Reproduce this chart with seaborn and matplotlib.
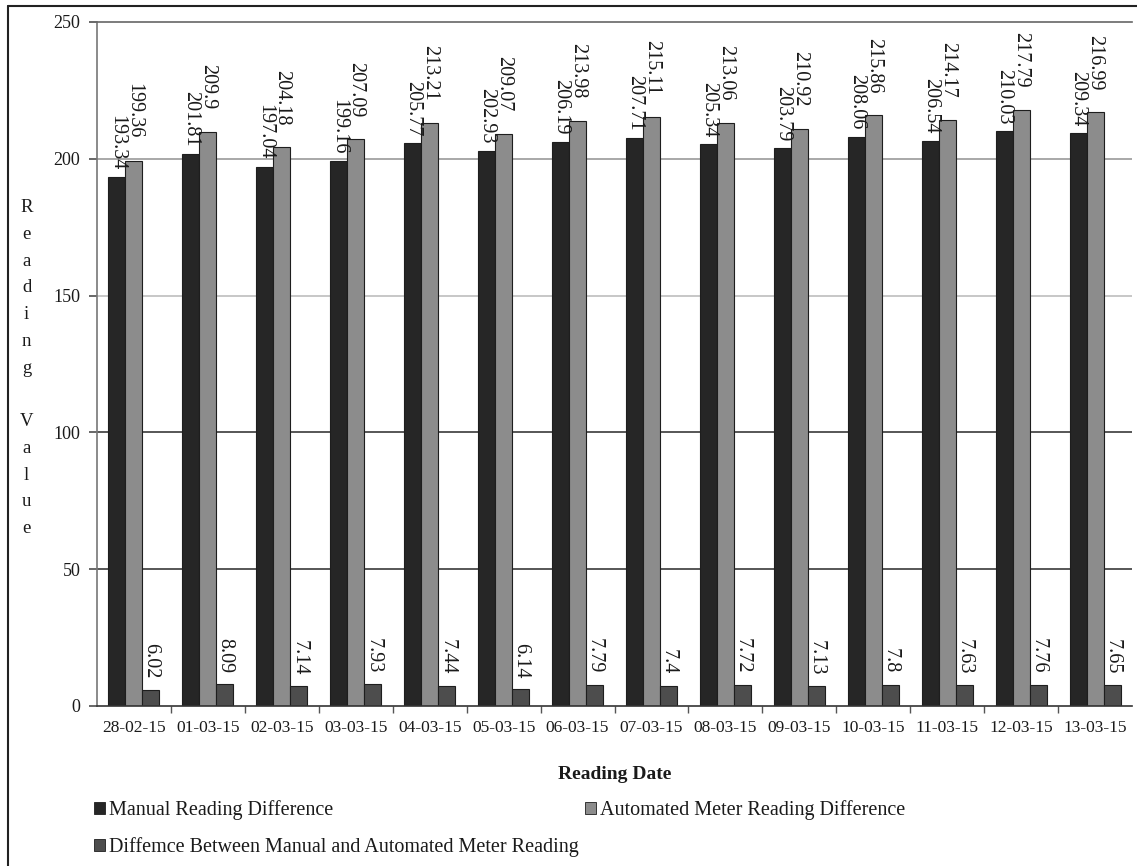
import numpy as np
import pandas as pd
import matplotlib
matplotlib.use("Agg")
import matplotlib.pyplot as plt
from matplotlib.lines import Line2D
from matplotlib.patches import Patch
import seaborn as sns

# Daily readings
dates = ["28-02-15", "01-03-15", "02-03-15", "03-03-15", "04-03-15", "05-03-15", "06-03-15",
         "07-03-15", "08-03-15", "09-03-15", "10-03-15", "11-03-15", "12-03-15", "13-03-15"]
manual = [193.34, 201.81, 197.04, 199.16, 205.77, 202.93, 206.19,
          207.71, 205.34, 203.79, 208.06, 206.54, 210.03, 209.34]
automated = [199.36, 209.9, 204.18, 207.09, 213.21, 209.07, 213.98,
             215.11, 213.06, 210.92, 215.86, 214.17, 217.79, 216.99]
difference = [6.02, 8.09, 7.14, 7.93, 7.44, 6.14, 7.79,
              7.4, 7.72, 7.13, 7.8, 7.63, 7.76, 7.65]

series_names = ["Manual Reading Difference",
                "Automated Meter Reading Difference",
                "Diffemce Between Manual and Automated Meter Reading"]

df = pd.DataFrame({
    "date": dates * 3,
    "value": manual + automated + difference,
    "series": [series_names[0]] * len(dates) + [series_names[1]] * len(dates)
              + [series_names[2]] * len(dates),
})

sns.set_theme(style="white")
plt.rcParams["font.family"] = ["Liberation Serif", "DejaVu Serif"]
plt.rcParams["text.color"] = "#1a1a1a"
plt.rcParams["axes.labelcolor"] = "#1a1a1a"
plt.rcParams["xtick.color"] = "#1a1a1a"
plt.rcParams["ytick.color"] = "#1a1a1a"

W, H = 1137, 866
fig = plt.figure(figsize=(W / 100, H / 100), dpi=100)
ax = fig.add_axes([97 / W, 1 - 706 / H, (1132 - 97) / W, (706 - 22) / H])

colors = ["#262626", "#8c8c8c", "#4d4d4d"]
sns.barplot(data=df, x="date", y="value", hue="series", hue_order=series_names,
            order=dates, palette=colors, width=0.69, ax=ax,
            edgecolor="#1e1e1e", linewidth=0.8, saturation=1, legend=False)

ax.set_ylim(0, 250)
ax.set_yticks([0, 50, 100, 150, 200, 250])
ax.tick_params(axis="y", labelsize=13, length=6, direction="out", left=True, pad=6,
               color="#555555")
ax.tick_params(axis="x", which="major", labelsize=12.5, length=0, pad=10)
ax.set_xticks(np.arange(len(dates) - 1) + 0.5, minor=True)
ax.tick_params(axis="x", which="minor", length=5, direction="out", bottom=True,
               color="#555555")

# horizontal gridlines
ax.set_axisbelow(True)
grid_colors = {50: "#3a3a3a", 100: "#3a3a3a", 150: "#bdbdbd", 200: "#9a9a9a"}
for yv, c in grid_colors.items():
    ax.axhline(yv, color=c, linewidth=1.2, zorder=0)

for side in ["top", "left", "bottom"]:
    ax.spines[side].set_visible(True)
ax.spines["right"].set_visible(False)
ax.spines["top"].set_color("#666666")
ax.spines["left"].set_color("#777777")
ax.spines["bottom"].set_color("#333333")
for s in ax.spines.values():
    s.set_linewidth(1.2)

# value labels above bars, reading top to bottom
paddings = [5, 16, 8]
values = [manual, automated, difference]
for cont, vals, pad in zip(ax.containers, values, paddings):
    ax.bar_label(cont, labels=[f"{v:g}" for v in vals], rotation=270,
                 padding=pad, fontsize=14.5, color="#1a1a1a")

ax.set_xlabel("Reading Date", fontsize=14, fontweight="bold", labelpad=22)
ax.set_ylabel("\n".join("Reading Value"), rotation=0, fontsize=13.5,
              linespacing=1.75, va="center", ha="center")
ax.yaxis.set_label_coords(-0.068, 0.494)

# legend laid out row by row
handles = [Patch(facecolor=colors[i], edgecolor="#1e1e1e", linewidth=0.6)
           for i in range(3)]
order = [0, 2, 1]
fig.legend([handles[i] for i in order], [series_names[i] for i in order],
           loc="upper left", bbox_to_anchor=(94 / W, 1 - 800 / H), ncol=2,
           frameon=False, fontsize=14.5, handlelength=0.55, handleheight=0.55,
           handletextpad=0.2, columnspacing=0.3, labelspacing=0.85,
           borderaxespad=0, borderpad=0)

# outer frame
fig.add_artist(Line2D([8 / W, 8 / W], [0, 1 - 6 / H], transform=fig.transFigure,
                      color="#222222", linewidth=1.5))
fig.add_artist(Line2D([8 / W, 1], [1 - 6 / H, 1 - 6 / H], transform=fig.transFigure,
                      color="#222222", linewidth=1.5))

fig.savefig("out.png", dpi=100, facecolor="white")
